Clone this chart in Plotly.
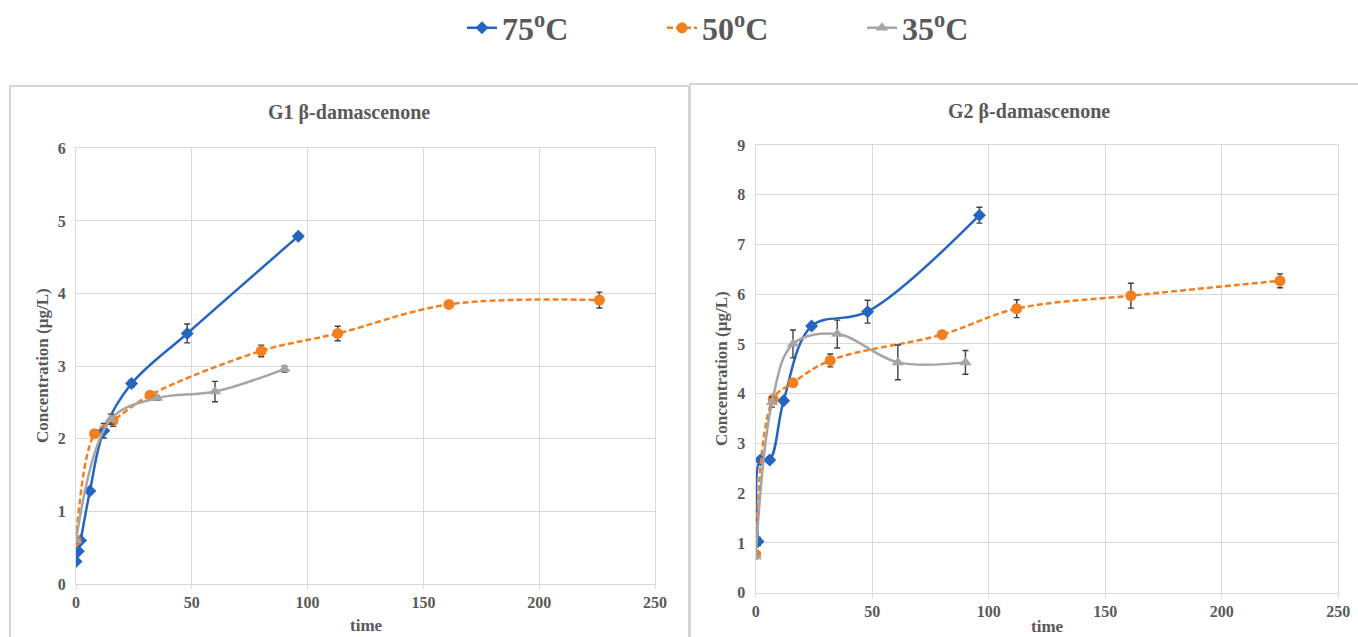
import plotly.graph_objects as go

# ---------------- data ----------------
# G1 beta-damascenone
g1_t75 = [0, 1, 2, 6, 12, 24, 48, 96]
g1_c75 = [0.31, 0.45, 0.60, 1.28, 2.11, 2.76, 3.45, 4.79]
g1_e75 = [0.02, 0.02, 0.02, 0.03, 0.10, 0.05, 0.13, 0.04]

g1_t50 = [0, 8, 16, 32, 80, 113, 161, 226]
g1_c50 = [0.60, 2.07, 2.25, 2.60, 3.21, 3.45, 3.85, 3.91]
g1_e50 = [0.03, 0.03, 0.08, 0.04, 0.08, 0.10, 0.03, 0.11]

g1_t35 = [0, 15, 35, 60, 90]
g1_c35 = [0.60, 2.27, 2.56, 2.65, 2.96]
g1_e35 = [0.03, 0.07, 0.03, 0.14, 0.04]

# G2 beta-damascenone
g2_t75 = [1, 2, 6, 12, 24, 48, 96]
g2_c75 = [1.03, 2.67, 2.67, 3.86, 5.36, 5.65, 7.59]
g2_e75 = [0.08, 0.04, 0.06, 0.06, 0.03, 0.23, 0.16]

g2_t50 = [0, 7.5, 16, 32, 80, 112, 161, 225]
g2_c50 = [0.77, 3.89, 4.22, 4.67, 5.19, 5.71, 5.97, 6.27]
g2_e50 = [0.03, 0.05, 0.06, 0.13, 0.04, 0.18, 0.25, 0.14]

g2_t35 = [0, 7, 16, 35, 61, 90]
g2_c35 = [0.73, 3.83, 5.00, 5.20, 4.63, 4.63]
g2_e35 = [0.03, 0.10, 0.28, 0.28, 0.35, 0.24]

series_names = ["75<sup>o</sup>C", "50<sup>o</sup>C", "35<sup>o</sup>C"]
panel_titles = ["G1 β-damascenone", "G2 β-damascenone"]
x_title = "time"
y_title = "Concentration (µg/L)"
x_ticks = [0, 50, 100, 150, 200, 250]

# ---------------- style ----------------
W, H = 1358, 637
FONT = "Liberation Serif, Times New Roman, DejaVu Serif, serif"
TXT = "#595959"
BLUE = "#2664C2"
ORANGE = "#F28021"
GRAY = "#A5A5A5"
ERR = "#404040"
GRID = "#D9D9D9"

styles = [
    dict(color=BLUE, dash="solid", symbol="diamond", size=10),
    dict(color=ORANGE, dash="6px,3px", symbol="circle", size=11),
    dict(color=GRAY, dash="solid", symbol="triangle-up", size=11),
]

def px(x):
    return x / W

def py(y):
    return 1 - y / H

fig = go.Figure()

panels = [
    (("x", "y"), [(g1_t75, g1_c75, g1_e75), (g1_t50, g1_c50, g1_e50), (g1_t35, g1_c35, g1_e35)], True),
    (("x2", "y2"), [(g2_t75, g2_c75, g2_e75), (g2_t50, g2_c50, g2_e50), (g2_t35, g2_c35, g2_e35)], False),
]

for (xa, ya), data, show in panels:
    for i, (t, c, e) in enumerate(data):
        s = styles[i]
        fig.add_trace(go.Scatter(
            x=t, y=c, xaxis=xa, yaxis=ya,
            mode="lines+markers",
            name=series_names[i],
            legendgroup=str(i),
            showlegend=show,
            line=dict(color=s["color"], width=2.5, dash=s["dash"], shape="spline", smoothing=1.0),
            marker=dict(color=s["color"], symbol=s["symbol"], size=s["size"], line=dict(width=0)),
            error_y=dict(type="data", array=e, visible=True, color=ERR, thickness=1.4, width=3),
        ))

axis_common = dict(
    range=[0, 250], tickvals=x_ticks, automargin=False,
    showgrid=True, gridcolor=GRID, gridwidth=1.3,
    showline=True, mirror=True, linecolor=GRID, linewidth=1.3,
    ticks="outside", ticklen=4, tickcolor=GRID,
    zeroline=False,
    tickfont=dict(family=FONT, size=16, color=TXT, weight="bold"),
)
yaxis_common = dict(
    showgrid=True, gridcolor=GRID, gridwidth=1.3, automargin=False,
    showline=True, mirror=True, linecolor=GRID, linewidth=1.3,
    ticks="", zeroline=False,
    tickfont=dict(family=FONT, size=16, color=TXT, weight="bold"),
    ticklabelstandoff=6,
)

L = dict(x0=76, x1=655, ytop=148.3, ybot=584)
R = dict(x0=755.7, x1=1338.3, ytop=145, ybot=592.7)

fig.update_layout(
    width=W, height=H,
    margin=dict(l=0, r=0, t=0, b=0, pad=0),
    paper_bgcolor="white", plot_bgcolor="white",
    xaxis=dict(domain=[px(L["x0"]), px(L["x1"])], anchor="y", **axis_common),
    yaxis=dict(domain=[py(L["ybot"]), py(L["ytop"])], anchor="x", range=[0, 6], dtick=1, **yaxis_common),
    xaxis2=dict(domain=[px(R["x0"]), px(R["x1"])], anchor="y2", **axis_common),
    yaxis2=dict(domain=[py(R["ybot"]), py(R["ytop"])], anchor="x2", range=[0, 9], dtick=1, **yaxis_common),
    showlegend=True,
    legend=dict(
        orientation="h", x=px(462), xanchor="left", y=py(28), yanchor="middle",
        font=dict(family=FONT, size=32, color=TXT, weight="bold"),
        entrywidth=155, entrywidthmode="pixels",
        bgcolor="rgba(0,0,0,0)",
    ),
)

# panel borders
for x0, x1, ytop in [(10, 689, 86), (690, 1370, 84)]:
    fig.add_shape(type="rect", xref="paper", yref="paper",
                  x0=px(x0), x1=px(x1), y0=py(H + 10), y1=py(ytop),
                  line=dict(color="#D5D5D5", width=2), fillcolor="rgba(0,0,0,0)", layer="below")

# titles and axis titles
annos = [
    (349, 113, panel_titles[0], 20, 0),
    (1029, 111, panel_titles[1], 20, 0),
    (366, 625, x_title, 17, 0),
    (1047, 626, x_title, 17, 0),
    (42, 366, y_title, 17, -90),
    (721, 369, y_title, 17, -90),
]
for x, y, text, size, ang in annos:
    fig.add_annotation(x=px(x), y=py(y), xref="paper", yref="paper",
                       text=text, showarrow=False, textangle=ang,
                       xanchor="center", yanchor="middle",
                       font=dict(family=FONT, size=size, color=TXT, weight="bold"))

fig.write_html("out.html", config={"displayModeBar": False},
               post_script="document.body.style.margin='0';document.body.style.overflow='hidden';")
